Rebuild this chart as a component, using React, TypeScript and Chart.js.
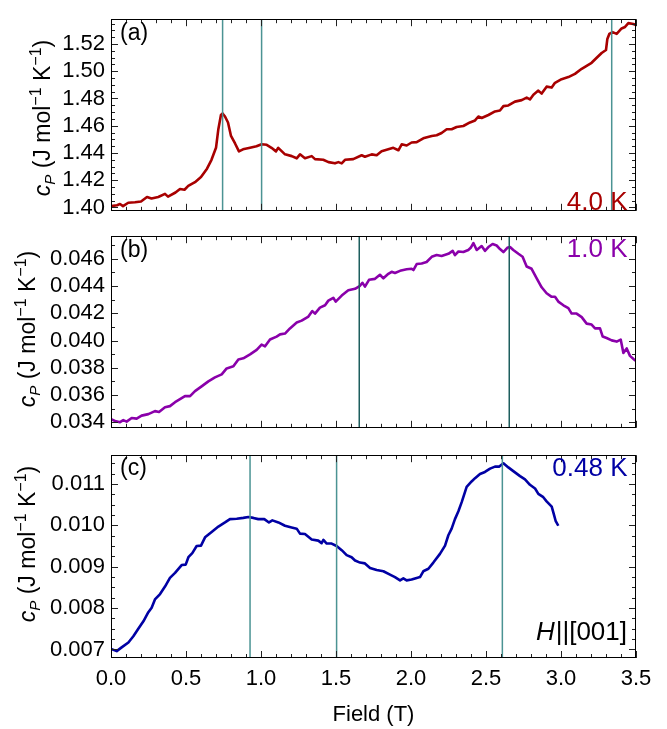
import React, { useEffect, useRef } from "react";
import { Chart, registerables } from "chart.js";
Chart.register(...registerables);

const FONT = "'Liberation Sans', Arial, Helvetica, sans-serif";

// ---------- data ----------
const fieldA = [0, 0.04, 0.06, 0.08, 0.115, 0.16, 0.2, 0.24, 0.27, 0.315, 0.36, 0.38, 0.43, 0.46, 0.49, 0.515, 0.56, 0.6, 0.64, 0.67, 0.7, 0.715, 0.733, 0.744, 0.76, 0.78, 0.8, 0.827, 0.853, 0.88, 0.927, 0.97, 1.004, 1.038, 1.07, 1.1, 1.115, 1.16, 1.205, 1.238, 1.26, 1.293, 1.338, 1.36, 1.415, 1.45, 1.493, 1.516, 1.538, 1.56, 1.615, 1.671, 1.693, 1.738, 1.771, 1.804, 1.882, 1.916, 1.938, 1.971, 2.004, 2.038, 2.082, 2.138, 2.171, 2.204, 2.238, 2.271, 2.304, 2.349, 2.393, 2.427, 2.449, 2.471, 2.516, 2.56, 2.593, 2.616, 2.649, 2.693, 2.738, 2.771, 2.793, 2.816, 2.849, 2.871, 2.904, 2.938, 2.96, 3.004, 3.049, 3.093, 3.138, 3.171, 3.204, 3.238, 3.271, 3.3, 3.309, 3.322, 3.344, 3.371, 3.404, 3.427, 3.449, 3.482, 3.5];
const cpA = [1.401, 1.4017, 1.4026, 1.401, 1.4035, 1.4038, 1.4044, 1.4077, 1.4066, 1.4077, 1.41, 1.408, 1.411, 1.4136, 1.413, 1.4158, 1.4186, 1.4223, 1.4285, 1.435, 1.4438, 1.457, 1.4679, 1.469, 1.4668, 1.4624, 1.4525, 1.447, 1.4412, 1.4427, 1.4438, 1.4449, 1.4464, 1.446, 1.4438, 1.4412, 1.4438, 1.439, 1.4377, 1.4361, 1.439, 1.4361, 1.4377, 1.4355, 1.435, 1.4333, 1.4324, 1.4333, 1.4324, 1.435, 1.4355, 1.4383, 1.4372, 1.439, 1.4383, 1.4412, 1.4438, 1.442, 1.4464, 1.4455, 1.4477, 1.448, 1.4508, 1.4525, 1.453, 1.4547, 1.4574, 1.4574, 1.4591, 1.4598, 1.4624, 1.4639, 1.4668, 1.4657, 1.4679, 1.4705, 1.4712, 1.4744, 1.4749, 1.4777, 1.4788, 1.4806, 1.4793, 1.4828, 1.4858, 1.4836, 1.4887, 1.488, 1.4915, 1.4942, 1.4957, 1.4981, 1.5018, 1.504, 1.5062, 1.5099, 1.5134, 1.5156, 1.5237, 1.5274, 1.5287, 1.5274, 1.5314, 1.5325, 1.5353, 1.5347, 1.534];

const fieldB = [0, 0.027, 0.06, 0.082, 0.104, 0.138, 0.171, 0.204, 0.249, 0.293, 0.32, 0.36, 0.393, 0.427, 0.46, 0.493, 0.527, 0.56, 0.604, 0.649, 0.693, 0.738, 0.771, 0.816, 0.849, 0.882, 0.927, 0.971, 1.004, 1.027, 1.06, 1.104, 1.127, 1.16, 1.193, 1.238, 1.271, 1.316, 1.342, 1.36, 1.393, 1.427, 1.449, 1.482, 1.498, 1.538, 1.582, 1.627, 1.66, 1.676, 1.693, 1.72, 1.76, 1.793, 1.816, 1.849, 1.871, 1.893, 1.927, 1.971, 2.004, 2.016, 2.038, 2.071, 2.104, 2.138, 2.171, 2.204, 2.249, 2.278, 2.293, 2.316, 2.349, 2.382, 2.398, 2.416, 2.438, 2.471, 2.493, 2.516, 2.544, 2.571, 2.593, 2.616, 2.642, 2.66, 2.682, 2.716, 2.744, 2.771, 2.804, 2.838, 2.871, 2.904, 2.938, 2.96, 2.982, 3.016, 3.049, 3.071, 3.104, 3.138, 3.171, 3.204, 3.227, 3.26, 3.278, 3.304, 3.338, 3.371, 3.398, 3.416, 3.438, 3.46, 3.487, 3.5];
const cpB = [0.03422, 0.03409, 0.034, 0.03415, 0.03404, 0.03431, 0.03426, 0.03448, 0.03459, 0.03481, 0.03475, 0.0351, 0.03518, 0.03547, 0.03569, 0.03591, 0.03591, 0.03628, 0.03663, 0.037, 0.03729, 0.03751, 0.03795, 0.0381, 0.03861, 0.03869, 0.03898, 0.03931, 0.0397, 0.03957, 0.04007, 0.04029, 0.04045, 0.04051, 0.04089, 0.04132, 0.04146, 0.04176, 0.04216, 0.04198, 0.04242, 0.04259, 0.04293, 0.04314, 0.04286, 0.0433, 0.04369, 0.0438, 0.04402, 0.04424, 0.04396, 0.04446, 0.04453, 0.04483, 0.04457, 0.0449, 0.04505, 0.04496, 0.04512, 0.04523, 0.04527, 0.04518, 0.04562, 0.04566, 0.04577, 0.04615, 0.04628, 0.04621, 0.04637, 0.04659, 0.04628, 0.04654, 0.0465, 0.04665, 0.04681, 0.04716, 0.04665, 0.04694, 0.04659, 0.04687, 0.04709, 0.04698, 0.04672, 0.0465, 0.04681, 0.04687, 0.04665, 0.04637, 0.04615, 0.04544, 0.04527, 0.04457, 0.04391, 0.04347, 0.04321, 0.04321, 0.04286, 0.04259, 0.04238, 0.04198, 0.04198, 0.04172, 0.04124, 0.04117, 0.04089, 0.04089, 0.04029, 0.04018, 0.04001, 0.03992, 0.04007, 0.03909, 0.03942, 0.03887, 0.03861, 0.0385];

const fieldC = [0, 0.038, 0.071, 0.116, 0.149, 0.182, 0.216, 0.249, 0.271, 0.293, 0.327, 0.36, 0.393, 0.427, 0.471, 0.498, 0.516, 0.542, 0.571, 0.6, 0.627, 0.671, 0.716, 0.76, 0.793, 0.838, 0.882, 0.916, 0.949, 0.982, 1.022, 1.053, 1.076, 1.116, 1.16, 1.204, 1.238, 1.26, 1.293, 1.338, 1.382, 1.404, 1.416, 1.438, 1.471, 1.504, 1.538, 1.571, 1.604, 1.627, 1.66, 1.693, 1.727, 1.771, 1.816, 1.86, 1.893, 1.927, 1.949, 1.971, 2.004, 2.038, 2.06, 2.082, 2.116, 2.149, 2.193, 2.227, 2.249, 2.271, 2.293, 2.316, 2.338, 2.371, 2.404, 2.427, 2.46, 2.493, 2.527, 2.56, 2.589, 2.616, 2.649, 2.682, 2.727, 2.76, 2.793, 2.827, 2.849, 2.882, 2.904, 2.938, 2.953, 2.964, 2.982];
const cpC = [0.007015, 0.00696, 0.00705, 0.00717, 0.00732, 0.0075, 0.00768, 0.0079, 0.00801, 0.00821, 0.00834, 0.00852, 0.00873, 0.00885, 0.00904, 0.00905, 0.00923, 0.00933, 0.0095, 0.00951, 0.00971, 0.00984, 0.00997, 0.01007, 0.01015, 0.01016, 0.01018, 0.0102, 0.01018, 0.01015, 0.01015, 0.01007, 0.01012, 0.01007, 0.00999, 0.00995, 0.00992, 0.0098, 0.00979, 0.00966, 0.00963, 0.00957, 0.00965, 0.00956, 0.00956, 0.0095, 0.0094, 0.00928, 0.00923, 0.00915, 0.0091, 0.00908, 0.00897, 0.00892, 0.00889, 0.00881, 0.00875, 0.00867, 0.00872, 0.00867, 0.00869, 0.00873, 0.00875, 0.00889, 0.00895, 0.0091, 0.00931, 0.00951, 0.00976, 0.00992, 0.01015, 0.01034, 0.01056, 0.01093, 0.01106, 0.01114, 0.01124, 0.01129, 0.01137, 0.01142, 0.01142, 0.0115, 0.0114, 0.01131, 0.01119, 0.01111, 0.01098, 0.01089, 0.01076, 0.01068, 0.01058, 0.01045, 0.01026, 0.01011, 0.00999];

const markersA = [0.744, 1.004, 3.338];
const markersB = [1.655, 2.655];
const markersC = [0.927, 1.504, 2.609];

const xTicks = [0, 0.5, 1.0, 1.5, 2.0, 2.5, 3.0, 3.5];
const yTicksA = [1.4, 1.42, 1.44, 1.46, 1.48, 1.5, 1.52];
const yTicksB = [0.034, 0.036, 0.038, 0.04, 0.042, 0.044, 0.046];
const yTicksC = [0.007, 0.008, 0.009, 0.01, 0.011];

const panelLabels = ["(a)", "(b)", "(c)"];
const tempLabels = ["4.0 K", "1.0 K", "0.48 K"];
const xTitle = "Field (T)";

// ---------- panel layout ----------
const PANELS = [
  {
    key: "a", field: fieldA, cp: cpA, markers: markersA, yTicks: yTicksA, dec: 2,
    yMin: 1.39757, yMax: 1.5382, minor: 0.005, ratio: 4,
    color: "#a80000", markerColor: "#4b9393",
    top: 0, height: 230, showX: false, titleX: 50, titleY: 118, labelY: 40, tempY: 210,
    label: panelLabels[0], temp: tempLabels[0],
  },
  {
    key: "b", field: fieldB, cp: cpB, markers: markersB, yTicks: yTicksB, dec: 3,
    yMin: 0.033586, yMax: 0.047664, minor: 0.001, ratio: 2,
    color: "#8a00aa", markerColor: "#1d5e5e",
    top: 217, height: 230, showX: false, titleX: 35, titleY: 112, labelY: 40, tempY: 40,
    label: panelLabels[1], temp: tempLabels[1],
  },
  {
    key: "c", field: fieldC, cp: cpC, markers: markersC, yTicks: yTicksC, dec: 3,
    yMin: 0.006794, yMax: 0.011695, minor: 0.00025, ratio: 4,
    color: "#0000a4", markerColor: "#4b9393",
    top: 436, height: 293, showX: true, titleX: 35, titleY: 108, labelY: 39, tempY: 40,
    label: panelLabels[2], temp: tempLabels[2],
  },
];

function drawYTitle(ctx: CanvasRenderingContext2D, cx: number, cy: number) {
  const parts = [
    { t: "c", f: `italic 23px ${FONT}`, dy: 0 },
    { t: "P", f: `italic 15px ${FONT}`, dy: 5 },
    { t: " (J mol", f: `23px ${FONT}`, dy: 0 },
    { t: "\u22121", f: `16px ${FONT}`, dy: -9 },
    { t: " K", f: `23px ${FONT}`, dy: 0 },
    { t: "\u22121", f: `16px ${FONT}`, dy: -9 },
    { t: ")", f: `23px ${FONT}`, dy: 0 },
  ];
  ctx.save();
  ctx.translate(cx, cy);
  ctx.rotate(-Math.PI / 2);
  ctx.fillStyle = "#000";
  ctx.textBaseline = "alphabetic";
  ctx.textAlign = "left";
  let total = 0;
  const widths = parts.map((p) => {
    ctx.font = p.f;
    const w = ctx.measureText(p.t).width;
    total += w;
    return w;
  });
  let x = -total / 2;
  parts.forEach((p, i) => {
    ctx.font = p.f;
    ctx.fillText(p.t, x, p.dy);
    x += widths[i];
  });
  ctx.restore();
}

function buildChart(canvas: HTMLCanvasElement, p: any) {
  const decor = {
    id: "decor" + p.key,
    afterDraw(chart: any) {
      const { ctx, chartArea: ca, scales } = chart;
      const xs = scales.x;
      const ys = scales.y;
      ctx.save();
      // inward ticks
      ctx.strokeStyle = "#222";
      ctx.lineWidth = 1;
      ctx.beginPath();
      for (let i = 0; i <= 35; i++) {
        const v = i / 10;
        const px = Math.round(xs.getPixelForValue(v)) + 0.5;
        const len = i % 5 === 0 ? 7 : 4;
        ctx.moveTo(px, ca.top);
        ctx.lineTo(px, ca.top + len);
        ctx.moveTo(px, ca.bottom);
        ctx.lineTo(px, ca.bottom - len);
      }
      const i0 = Math.ceil(p.yMin / p.minor - 1e-6);
      const i1 = Math.floor(p.yMax / p.minor + 1e-6);
      for (let i = i0; i <= i1; i++) {
        const v = i * p.minor;
        const py = Math.round(ys.getPixelForValue(v)) + 0.5;
        const len = i % p.ratio === 0 ? 7 : 4;
        ctx.moveTo(ca.left, py);
        ctx.lineTo(ca.left + len, py);
        ctx.moveTo(ca.right, py);
        ctx.lineTo(ca.right - len, py);
      }
      ctx.stroke();
      // frame
      ctx.strokeStyle = "#000";
      ctx.lineWidth = 1;
      ctx.strokeRect(
        Math.round(ca.left) + 0.5,
        Math.round(ca.top) + 0.5,
        Math.round(ca.right - ca.left) - 1,
        Math.round(ca.bottom - ca.top) - 1
      );
      // panel label
      ctx.fillStyle = "#000";
      ctx.font = `23px ${FONT}`;
      ctx.textAlign = "left";
      ctx.textBaseline = "alphabetic";
      ctx.fillText(p.label, 120, p.labelY);
      // temperature label
      ctx.fillStyle = p.color;
      ctx.font = `26px ${FONT}`;
      ctx.textAlign = "right";
      ctx.fillText(p.temp, 627.5, p.tempY);
      if (p.key === "c") {
        ctx.fillStyle = "#000";
        ctx.font = `26px ${FONT}`;
        const rest = "||[001]";
        const w = ctx.measureText(rest).width;
        ctx.fillText(rest, 627, 204);
        ctx.font = `italic 26px ${FONT}`;
        ctx.fillText("H", 627 - w - 1, 204);
      }
      ctx.restore();
      drawYTitle(ctx, p.titleX, p.titleY);
    },
  };

  const markerSets = p.markers.map((m: number) => ({
    data: [
      { x: m, y: p.yMin },
      { x: m, y: p.yMax },
    ],
    borderColor: p.markerColor,
    borderWidth: 1.5,
    pointRadius: 0,
    order: 0,
  }));

  return new Chart(canvas, {
    type: "line",
    data: {
      datasets: [
        ...markerSets,
        {
          data: p.field.map((x: number, i: number) => ({ x, y: p.cp[i] })),
          borderColor: p.color,
          borderWidth: 2.6,
          pointRadius: 0,
          tension: 0,
          borderJoinStyle: "round",
          order: 1,
        },
      ],
    },
    options: {
      animation: false,
      responsive: false,
      maintainAspectRatio: false,
      devicePixelRatio: 1,
      events: [],
      layout: { padding: { top: 8, left: 0, right: 31, bottom: p.showX ? 0 : 8 } },
      plugins: { legend: { display: false }, tooltip: { enabled: false } },
      scales: {
        x: {
          type: "linear",
          min: 0,
          max: 3.5,
          display: p.showX,
          grid: { display: false, drawTicks: false },
          border: { display: false },
          afterBuildTicks: (s: any) => {
            s.ticks = xTicks.map((v) => ({ value: v }));
          },
          afterFit: (s: any) => {
            if (p.showX) s.height = 71;
          },
          ticks: {
            display: true,
            autoSkip: false,
            maxRotation: 0,
            padding: 8,
            color: "#000",
            font: { family: FONT, size: 22 },
            callback: (v: any) => Number(v).toFixed(1),
          },
          title: {
            display: true,
            text: xTitle,
            color: "#000",
            font: { family: FONT, size: 22 },
            padding: { top: 0, bottom: 1 },
          },
        },
        y: {
          type: "linear",
          min: p.yMin,
          max: p.yMax,
          grid: { display: false, drawTicks: false },
          border: { display: false },
          afterBuildTicks: (s: any) => {
            s.ticks = p.yTicks.map((v: number) => ({ value: v }));
          },
          afterFit: (s: any) => {
            s.width = 111;
          },
          ticks: {
            padding: 6,
            color: "#000",
            font: { family: FONT, size: 22 },
            callback: (v: any) => Number(v).toFixed(p.dec),
          },
        },
      },
    },
    plugins: [decor],
  } as any);
}

export default function App() {
  const r0 = useRef<HTMLCanvasElement>(null);
  const r1 = useRef<HTMLCanvasElement>(null);
  const r2 = useRef<HTMLCanvasElement>(null);
  const refs = [r0, r1, r2];
  useEffect(() => {
    const charts = PANELS.map((p, i) => buildChart(refs[i].current as HTMLCanvasElement, p));
    return () => charts.forEach((c) => c.destroy());
  }, []);
  return (
    <div style={{ position: "fixed", left: 0, top: 0, width: 667, height: 729, background: "#fff" }}>
      {PANELS.map((p, i) => (
        <canvas
          key={p.key}
          ref={refs[i]}
          width={667}
          height={p.height}
          style={{ position: "absolute", left: 0, top: p.top, width: 667, height: p.height }}
        />
      ))}
    </div>
  );
}
